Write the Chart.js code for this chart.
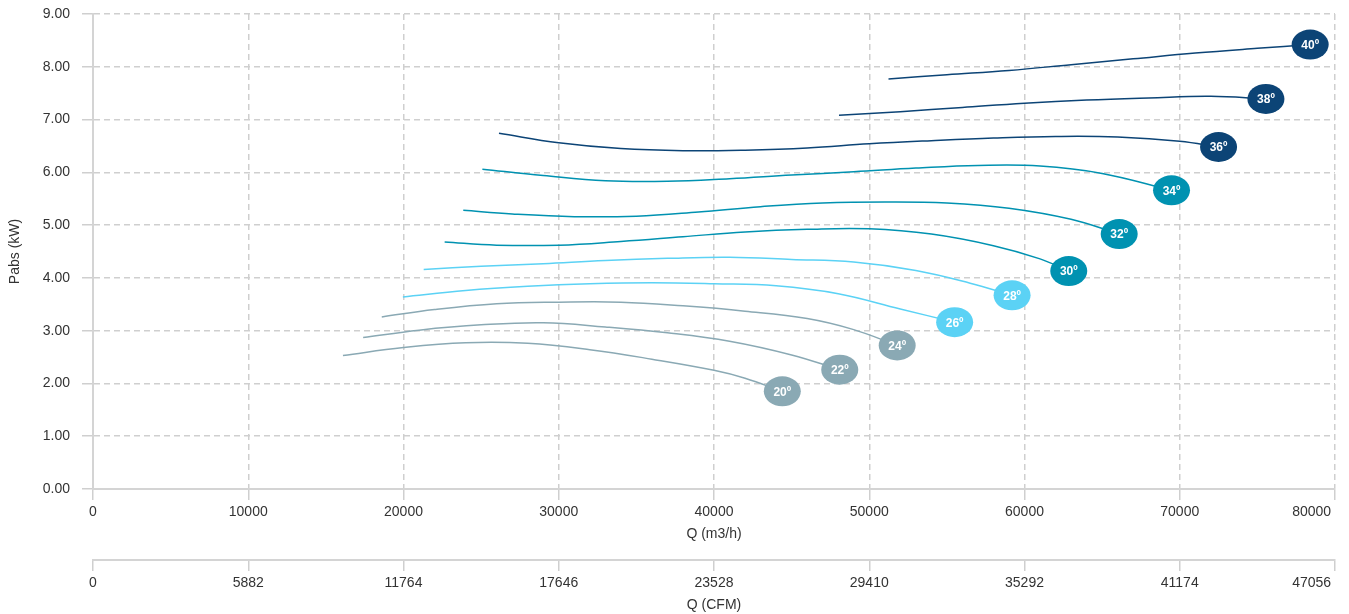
<!DOCTYPE html>
<html>
<head>
<meta charset="utf-8">
<script src="https://cdn.jsdelivr.net/npm/chart.js@4.4.1/dist/chart.umd.min.js"></script>
<style>
html,body{margin:0;padding:0;background:#fff;}
#wrap{width:1349px;height:614px;position:relative;}
</style>
</head>
<body>
<div id="wrap"><canvas id="c"></canvas></div>
<script>
// ---- tick labels ----
const qLabels = ['0','10000','20000','30000','40000','50000','60000','70000','80000'];
const cfmLabels = ['0','5882','11764','17646','23528','29410','35292','41174','47056'];
const pLabels = ['0.00','1.00','2.00','3.00','4.00','5.00','6.00','7.00','8.00','9.00'];

// ---- curve names & colours ----
const curveNames = ['20º','22º','24º','26º','28º','30º','32º','34º','36º','38º','40º'];
const curveColors = ['#8aa9b4','#8aa9b4','#8aa9b4','#5bd2f5','#5bd2f5','#0092b1','#0092b1','#0092b1','#0c4476','#0c4476','#0c4476'];

// ---- series (Q m3/h , Pabs kW) ----
const q20 = [16100, 20000, 24000, 28000, 32000, 36000, 40000, 42000, 44400];
const p20 = [2.53, 2.68, 2.77, 2.76, 2.64, 2.46, 2.25, 2.10, 1.85];
const q22 = [17400, 21000, 25000, 29000, 33000, 37000, 41000, 45000, 48100];
const p22 = [2.87, 3.01, 3.11, 3.15, 3.07, 2.96, 2.80, 2.54, 2.26];
const q24 = [18600, 22000, 26000, 30000, 34000, 38000, 42000, 46000, 49000, 51800];
const p24 = [3.26, 3.40, 3.51, 3.54, 3.54, 3.47, 3.37, 3.23, 3.02, 2.72];
const q26 = [19960, 24000, 28000, 32000, 36000, 40000, 44000, 48000, 52000, 55500];
const p26 = [3.64, 3.76, 3.84, 3.89, 3.91, 3.89, 3.85, 3.70, 3.41, 3.16];
const q28 = [21300, 25000, 29000, 33000, 37000, 41000, 45000, 49000, 53000, 56500, 59200];
const p28 = [4.16, 4.22, 4.27, 4.33, 4.37, 4.39, 4.35, 4.30, 4.14, 3.90, 3.67];
const q30 = [22650, 26000, 30000, 34000, 38000, 42000, 46000, 50000, 54000, 58000, 61000, 62850];
const p30 = [4.68, 4.62, 4.62, 4.69, 4.78, 4.87, 4.92, 4.93, 4.83, 4.61, 4.36, 4.13];
const q32 = [23850, 27000, 31000, 35000, 39000, 43000, 47000, 51000, 55000, 59000, 63000, 66100];
const p32 = [5.28, 5.21, 5.16, 5.17, 5.25, 5.35, 5.42, 5.44, 5.42, 5.32, 5.11, 4.83];
const q34 = [25080, 29000, 33000, 37000, 41000, 45000, 49000, 53000, 57000, 61000, 65000, 69470];
const p34 = [6.06, 5.94, 5.84, 5.83, 5.88, 5.95, 6.01, 6.08, 6.13, 6.12, 5.98, 5.66];
const q36 = [26150, 30000, 34000, 38000, 42000, 46000, 50000, 54000, 58000, 62000, 66000, 70000, 72500];
const p36 = [6.74, 6.56, 6.45, 6.41, 6.42, 6.46, 6.54, 6.60, 6.65, 6.68, 6.67, 6.59, 6.48];
const q38 = [48050, 52000, 56000, 60000, 64000, 68000, 72000, 75550];
const p38 = [7.08, 7.15, 7.23, 7.31, 7.37, 7.41, 7.44, 7.39];
const q40 = [51240, 55000, 59000, 63000, 67000, 71000, 75000, 78400];
const p40 = [7.77, 7.85, 7.93, 8.04, 8.15, 8.26, 8.35, 8.42];

const seriesQ = [q20, q22, q24, q26, q28, q30, q32, q34, q36, q38, q40];
const seriesP = [p20, p22, p24, p26, p28, p30, p32, p34, p36, p38, p40];

const FONT = '"Liberation Sans", Arial, Helvetica, sans-serif';
Chart.defaults.font.family = FONT;
Chart.defaults.font.size = 14;
Chart.defaults.color = '#333';

const datasets = curveNames.map((name, i) => ({
  label: name,
  data: seriesQ[i].map((q, k) => ({x: q, y: seriesP[i][k]})),
  borderColor: curveColors[i],
  backgroundColor: curveColors[i],
  borderWidth: 1.5,
  pointRadius: 0,
  pointHoverRadius: 0,
  fill: false,
  tension: 0.4
}));

const bubblePlugin = {
  id: 'bubbles',
  afterDatasetsDraw(chart) {
    const ctx = chart.ctx;
    chart.data.datasets.forEach((ds, i) => {
      const meta = chart.getDatasetMeta(i);
      const pt = meta.data[meta.data.length - 1];
      if (!pt) return;
      ctx.save();
      ctx.beginPath();
      ctx.ellipse(pt.x, pt.y, 18.5, 15, 0, 0, Math.PI * 2);
      ctx.fillStyle = ds.borderColor;
      ctx.fill();
      ctx.fillStyle = '#ffffff';
      ctx.font = 'bold 12px ' + FONT;
      ctx.textAlign = 'center';
      ctx.textBaseline = 'middle';
      ctx.fillText(ds.label, pt.x, pt.y + 1);
      ctx.restore();
    });
  }
};

const GRID = '#cfcfcf';
const padLast = (arr, i) => (i === arr.length - 1 ? arr[i] + '            ' : arr[i]);

new Chart(document.getElementById('c'), {
  type: 'line',
  data: { datasets },
  plugins: [bubblePlugin],
  options: {
    responsive: true,
    maintainAspectRatio: false,
    animation: false,
    layout: { padding: { left: 0, right: 14, top: 14, bottom: 0 } },
    plugins: { legend: { display: false }, tooltip: { enabled: false } },
    scales: {
      x: {
        type: 'linear', position: 'bottom', min: 0, max: 80000,
        ticks: { stepSize: 10000, maxRotation: 0, autoSkip: false, padding: 4,
                 callback: (v, i) => padLast(qLabels, i) },
        grid: { color: GRID, lineWidth: 1.5, tickLength: 11, tickColor: GRID, tickWidth: 1.5 },
        border: { display: true, color: '#d4d4d4', width: 2, dash: [6, 4] },
        title: { display: true, text: 'Q (m3/h)', font: { size: 14 }, padding: { top: 0, bottom: 17 } },
        afterFit: (s) => { s.height = 71; s.paddingRight = 0; s.paddingLeft = 0; }
      },
      x2: {
        type: 'linear', position: 'bottom', min: 0, max: 80000,
        ticks: { stepSize: 10000, maxRotation: 0, autoSkip: false, padding: 4,
                 callback: (v, i) => padLast(cfmLabels, i) },
        grid: { drawOnChartArea: false, color: GRID, lineWidth: 1.5, tickLength: 11, tickColor: GRID, tickWidth: 1.5 },
        border: { display: true, color: '#d4d4d4', width: 2 },
        title: { display: true, text: 'Q (CFM)', font: { size: 14 }, padding: { top: 0, bottom: 0 } },
        afterFit: (s) => { s.height = 54; s.paddingRight = 0; s.paddingLeft = 0; }
      },
      y: {
        type: 'linear', position: 'left', min: 0, max: 9,
        ticks: { stepSize: 1, padding: 12, callback: (v, i) => pLabels[i] },
        grid: { color: GRID, lineWidth: 1.5, tickLength: 11, tickColor: GRID, tickWidth: 1.5 },
        border: { display: true, color: '#d4d4d4', width: 2, dash: [6, 4] },
        title: { display: true, text: 'Pabs (kW)', font: { size: 14 }, padding: { top: 7, bottom: 0 } },
        afterFit: (s) => { s.width = 93; s.paddingTop = 0; s.paddingBottom = 0; }
      }
    }
  }
});
</script>
</body>
</html>
